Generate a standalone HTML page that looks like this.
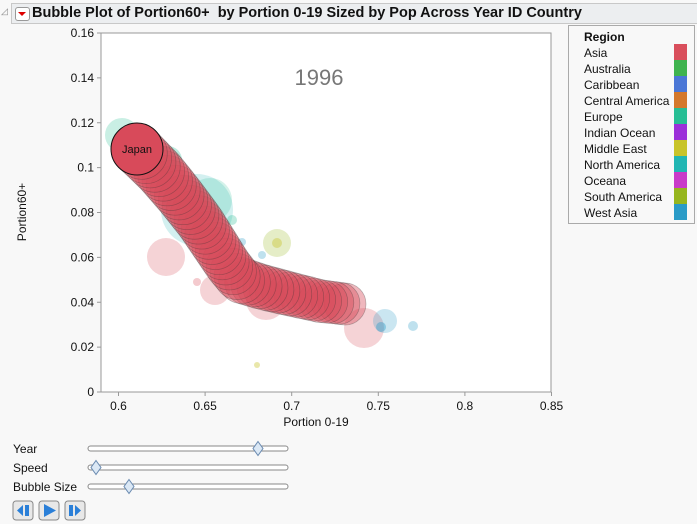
<!DOCTYPE html>
<html><head><meta charset="utf-8"><style>
body{margin:0;width:697px;height:524px;background:#f8f8f8;font-family:"Liberation Sans",sans-serif;overflow:hidden;position:relative}
</style></head><body>
<div style="position:absolute;left:11px;top:3px;width:686px;height:19px;background:#eceef0;border:1px solid #c8c8c8;border-right:none"></div>
<div style="position:absolute;left:1px;top:6px;font-size:9px;color:#888">◿</div>
<div style="position:absolute;left:15px;top:7px;width:13px;height:12px;border:1px solid #999;border-radius:3px;background:#fff"></div>
<div style="position:absolute;left:18px;top:12px;width:0;height:0;border-left:4px solid transparent;border-right:4px solid transparent;border-top:4px solid #d00"></div>
<div style="position:absolute;left:32px;top:5px;font-size:14.5px;font-weight:bold;color:#111">Bubble Plot of Portion60+ &nbsp;by Portion 0-19 Sized by Pop Across Year ID Country</div>
<svg id="s" width="697" height="524" style="position:absolute;left:0;top:0">
<rect x="101" y="33" width="450" height="359" fill="#fff" stroke="#999"/>
<text x="319" y="85" font-size="22" fill="#777" text-anchor="middle" font-family="Liberation Sans">1996</text>
<g id="ax" font-size="12" fill="#111" font-family="Liberation Sans"></g>
<g id="bg"></g><g id="tr"></g>
<circle cx="137" cy="149" r="26" fill="#d84a5a" stroke="#111" stroke-width="1"/>
<text x="137" y="153" font-size="11" text-anchor="middle" fill="#111" font-family="Liberation Sans">Japan</text>
<text x="316" y="426" font-size="12" text-anchor="middle" fill="#111" font-family="Liberation Sans">Portion 0-19</text>
<text x="26" y="212" font-size="12" text-anchor="middle" fill="#111" font-family="Liberation Sans" transform="rotate(-90 26 212)">Portion60+</text>
<rect x="568.5" y="25.5" width="126" height="198" fill="#f8f8f8" stroke="#aaa"/>
<g id="lg" font-size="12" font-family="Liberation Sans" fill="#111"></g>
<g id="sl"></g>
</svg>
<script>
var NS="http://www.w3.org/2000/svg";
function el(p,t,a,tx){var e=document.createElementNS(NS,t);for(var k in a)e.setAttribute(k,a[k]);if(tx)e.textContent=tx;document.getElementById(p).appendChild(e);}
for(var i=0;i<=8;i++){var y=392-i*44.875;el("ax","line",{x1:97,x2:101,y1:y,y2:y,stroke:"#999"});el("ax","text",{x:94,y:y+4,"text-anchor":"end"},i==0?"0":(i*0.02).toFixed(2).replace(/0$/,""));}
var xl=["0.6","0.65","0.7","0.75","0.8","0.85"];
for(var i=0;i<6;i++){var x=118.5+i*86.6;el("ax","line",{x1:x,x2:x,y1:392,y2:396,stroke:"#999"});el("ax","text",{x:x,y:410,"text-anchor":"middle"},xl[i]);}
var B=[[122,135,17,"#27be94",.25],[197,210,36,"#21b6b3",.2],[168,160,14,"#27be94",.3],[210,200,22,"#27be94",.2],[232,220,5,"#27be94",.3],[166,257,19,"#d94f5c",.25],[215,290,15,"#d94f5c",.25],[266,300,20,"#d94f5c",.25],[364,328,20,"#d94f5c",.25],[385,321,12,"#2a9bc7",.25],[381,327,5,"#2a9bc7",.4],[277,243,14,"#96b61e",.25],[277,243,5,"#c8c42a",.4],[242,242,4,"#2a9bc7",.3],[413,326,5,"#2a9bc7",.3],[257,365,3,"#c8c42a",.4],[197,228,5,"#d94f5c",.3],[197,282,4,"#d94f5c",.3],[262,255,4,"#2a9bc7",.3]];
B.forEach(function(b){el("bg","circle",{cx:b[0],cy:b[1],r:b[2],fill:b[3],"fill-opacity":b[4]});});
var P=[[345,304],[320,301],[290,294],[262,287],[240,280],[228,265],[215,245],[200,222],[180,196],[160,172],[137,149]];
var L=[0],tot=0;for(var i=1;i<P.length;i++){tot+=Math.hypot(P[i][0]-P[i-1][0],P[i][1]-P[i-1][1]);L.push(tot);}
var N=44;for(var k=0;k<N;k++){var d=tot*k/N,j=1;while(L[j]<d)j++;var f=(d-L[j-1])/(L[j]-L[j-1]);var x=P[j-1][0]+f*(P[j][0]-P[j-1][0]),y=P[j-1][1]+f*(P[j][1]-P[j-1][1]);el("tr","circle",{cx:x,cy:y,r:21+5*k/N,fill:"#d84a5a","fill-opacity":.4,stroke:"#333","stroke-opacity":.35,"stroke-width":.7});}
var R=[["Asia","#d94f5c"],["Australia","#3fb34f"],["Caribbean","#4b77d6"],["Central America","#d4782b"],["Europe","#27be94"],["Indian Ocean","#9b30d9"],["Middle East","#c8c42a"],["North America","#21b6b3"],["Oceana","#c93bc9"],["South America","#96b61e"],["West Asia","#2a9bc7"]];
el("lg","text",{x:584,y:41,"font-weight":"bold"},"Region");
R.forEach(function(r,i){el("lg","text",{x:584,y:57+i*16},r[0]);el("lg","rect",{x:674,y:44+i*16,width:13,height:16,fill:r[1]});});
[["Year",455,258],["Speed",474,96],["Bubble Size",493,129]].forEach(function(s){el("sl","text",{x:13,y:s[1]-2,"font-size":12,"font-family":"Liberation Sans",fill:"#111"},s[0]);el("sl","rect",{x:88,y:s[1]-9,width:200,height:5,rx:2.5,fill:"#fff",stroke:"#888"});var x=s[2],y=s[1]-6.5;el("sl","path",{d:"M"+x+" "+(y-7)+"L"+(x+5)+" "+y+"L"+x+" "+(y+7)+"L"+(x-5)+" "+y+"Z",fill:"#dbe8f5",stroke:"#6a8ab0"});});
[13,39,65].forEach(function(x,i){el("sl","rect",{x:x,y:501,width:20,height:19,rx:3,fill:"#e8e8e8",stroke:"#888"});});
el("sl","path",{d:"M17 510.5L23 505V516Z",fill:"#2a7fd8"});el("sl","rect",{x:25,y:505,width:4,height:11,fill:"#2a7fd8"});
el("sl","path",{d:"M44 504L56 510.5L44 517Z",fill:"#2a7fd8"});
el("sl","rect",{x:69,y:505,width:4,height:11,fill:"#2a7fd8"});el("sl","path",{d:"M75 505L81 510.5L75 516Z",fill:"#2a7fd8"});
</script>
</body></html>
